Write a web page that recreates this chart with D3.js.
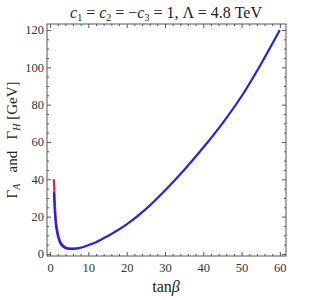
<!DOCTYPE html>
<html>
<head>
<meta charset="utf-8">
<script src="https://cdn.jsdelivr.net/npm/d3@7"></script>
<style>
  body { margin: 0; background: #fff; }
  svg text { font-family: "Liberation Serif", "DejaVu Serif", serif; white-space: pre; }
</style>
</head>
<body>
<script>
// valores
var tanBeta  = [1, 1.2, 1.5, 2, 2.5, 3, 4, 5, 6, 7, 8, 10, 12, 15, 20, 25, 30, 35, 40, 45, 50, 55, 60];
var gammaH   = [33, 24, 16, 10, 6.5, 4.8, 3.2, 2.7, 2.7, 2.9, 3.3, 4.7, 6.3, 9.5, 15.8, 24, 34, 45, 57, 70, 84.5, 101.5, 120];
var tanBetaA = [1, 1.2, 1.5, 2, 2.5, 3, 4, 5, 6, 7, 8];
var gammaA   = [40, 29, 19, 11.5, 7.5, 5.5, 3.6, 3.0, 2.9, 3.0, 3.35];
var xTicks = [0, 10, 20, 30, 40, 50, 60];
var yTicks = [0, 20, 40, 60, 80, 100, 120];

var width = 311, height = 300;
var frame = {left: 47, right: 286, top: 24, bottom: 256};

var svg = d3.select("body").append("svg")
    .attr("width", width)
    .attr("height", height);

var x = d3.scaleLinear().domain([-0.8, 61.6]).range([frame.left, frame.right]);
var y = d3.scaleLinear().domain([-1.1, 123.2]).range([frame.bottom, frame.top]);

var minorX = d3.range(0, 62, 2).filter(d => d % 10 != 0);
var minorY = d3.range(0, 124, 5).filter(d => d % 20 != 0);

// ejes (ticks hacia dentro, estilo Mathematica)
function styleAxis(g) {
  g.select(".domain").remove();
  g.selectAll("line").attr("stroke", "#555");
  g.selectAll("text").attr("fill", "#333").attr("font-size", 12.5);
}

svg.append("g").attr("transform", "translate(0," + frame.bottom + ")")
  .call(d3.axisBottom(x).tickValues(xTicks).tickSize(-4).tickPadding(7)).call(styleAxis);
svg.append("g").attr("transform", "translate(0," + frame.bottom + ")")
  .call(d3.axisBottom(x).tickValues(minorX).tickSize(-2).tickFormat("")).call(styleAxis);
svg.append("g").attr("transform", "translate(0," + frame.top + ")")
  .call(d3.axisTop(x).tickValues(xTicks).tickSize(-4).tickFormat("")).call(styleAxis);
svg.append("g").attr("transform", "translate(0," + frame.top + ")")
  .call(d3.axisTop(x).tickValues(minorX).tickSize(-2).tickFormat("")).call(styleAxis);

svg.append("g").attr("transform", "translate(" + frame.left + ",0)")
  .call(d3.axisLeft(y).tickValues(yTicks).tickSize(-4).tickPadding(3)).call(styleAxis);
svg.append("g").attr("transform", "translate(" + frame.left + ",0)")
  .call(d3.axisLeft(y).tickValues(minorY).tickSize(-2).tickFormat("")).call(styleAxis);
svg.append("g").attr("transform", "translate(" + frame.right + ",0)")
  .call(d3.axisRight(y).tickValues(yTicks).tickSize(-4).tickFormat("")).call(styleAxis);
svg.append("g").attr("transform", "translate(" + frame.right + ",0)")
  .call(d3.axisRight(y).tickValues(minorY).tickSize(-2).tickFormat("")).call(styleAxis);

// marco
svg.append("rect")
  .attr("x", frame.left).attr("y", frame.top)
  .attr("width", frame.right - frame.left).attr("height", frame.bottom - frame.top)
  .attr("fill", "none").attr("stroke", "#555").attr("stroke-width", 1);

// curvas
var line = d3.line().x(d => x(d[0])).y(d => y(d[1])).curve(d3.curveMonotoneX);

svg.append("path")
  .datum(tanBetaA.map((t, i) => [t, gammaA[i]]))
  .attr("d", line).attr("fill", "none")
  .attr("stroke", "#ff1a1a").attr("stroke-width", 2.2);

svg.append("path")
  .datum(tanBeta.map((t, i) => [t, gammaH[i]]))
  .attr("d", line).attr("fill", "none")
  .attr("stroke", "#2222ee").attr("stroke-width", 2.2);

// títulos
var title = svg.append("text")
  .attr("x", 166).attr("y", 18)
  .attr("text-anchor", "middle").attr("font-size", 16).attr("fill", "#222");
title.append("tspan").attr("font-style", "italic").text("c");
title.append("tspan").attr("font-size", 10).attr("dy", 3).text("1");
title.append("tspan").attr("dy", -3).text(" = ");
title.append("tspan").attr("font-style", "italic").text("c");
title.append("tspan").attr("font-size", 10).attr("dy", 3).text("2");
title.append("tspan").attr("dy", -3).text(" = \u2212");
title.append("tspan").attr("font-style", "italic").text("c");
title.append("tspan").attr("font-size", 10).attr("dy", 3).text("3");
title.append("tspan").attr("dy", -3).text(" = 1, \u039B = 4.8 TeV");

svg.append("text")
  .attr("x", 166).attr("y", 292)
  .attr("text-anchor", "middle").attr("font-size", 16).attr("fill", "#222")
  .call(t => {
    t.append("tspan").text("tan");
    t.append("tspan").attr("font-style", "italic").text("\u03B2");
  });

var ylab = svg.append("text")
  .attr("transform", "translate(17,140) rotate(-90)")
  .attr("text-anchor", "middle").attr("font-size", 15).attr("fill", "#222");
ylab.append("tspan").text("\u0393");
ylab.append("tspan").attr("font-size", 10).attr("font-style", "italic").attr("dy", 3).text("A");
ylab.append("tspan").attr("dy", -3).text("   and   \u0393");
ylab.append("tspan").attr("font-size", 10).attr("font-style", "italic").attr("dy", 3).text("H");
ylab.append("tspan").attr("dy", -3).text(" [GeV]");
</script>
</body>
</html>
